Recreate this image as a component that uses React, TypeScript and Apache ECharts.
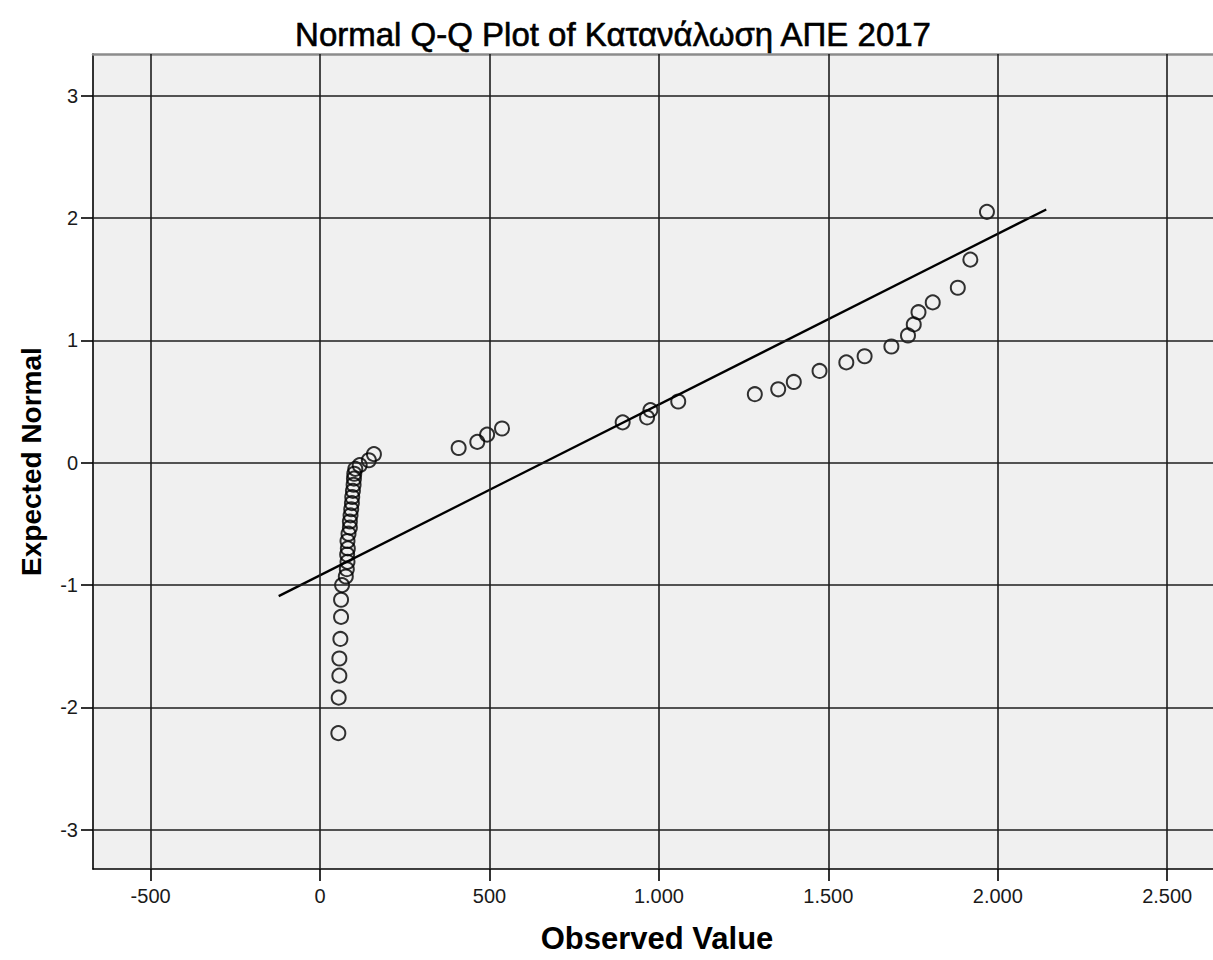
import React, { useEffect, useRef } from "react";
import * as echarts from "echarts";

// Observed values (x) and their expected normal scores (y), in rank order
const observed: number[] = [
  54, 55, 57, 57, 60, 62, 62, 65, 76, 79, 81, 80, 82, 81, 84, 88, 88, 90, 92, 94,
  95, 97, 99, 100, 101, 104, 117, 144, 159, 409, 464, 493, 537, 893, 965, 975,
  1057, 1283, 1352, 1398, 1474, 1553, 1607, 1686, 1735, 1752, 1766, 1808, 1882,
  1919, 1968,
];
const expected: number[] = [
  -2.21, -1.92, -1.74, -1.6, -1.44, -1.26, -1.12, -1.0, -0.93, -0.87, -0.81,
  -0.75, -0.7, -0.64, -0.58, -0.53, -0.48, -0.43, -0.38, -0.33, -0.28, -0.23,
  -0.18, -0.13, -0.09, -0.05, -0.02, 0.02, 0.07, 0.12, 0.17, 0.23, 0.28, 0.33,
  0.37, 0.43, 0.5, 0.56, 0.6, 0.66, 0.75, 0.82, 0.87, 0.95, 1.04, 1.13, 1.23,
  1.31, 1.43, 1.66, 2.05,
];

// Reference line end points (observed, expected)
const refLineX: number[] = [-122, 2143];
const refLineY: number[] = [-1.09, 2.07];

// Tick values
const xTicks: number[] = [-500, 0, 500, 1000, 1500, 2000, 2500];
const yTicks: number[] = [-3, -2, -1, 0, 1, 2, 3];

const FONT = "'Liberation Sans', Arial, sans-serif";

const fmtX = (v: number) =>
  String(v).replace(/\B(?=(\d{3})+(?!\d))/g, ".");

export default function App() {
  const ref = useRef<HTMLDivElement>(null);

  useEffect(() => {
    if (!ref.current) return;
    const chart = echarts.init(ref.current, undefined, { renderer: "svg" });

    const points = observed.map((x, i) => [x, expected[i]]);
    const line = refLineX.map((x, i) => [x, refLineY[i]]);

    const gridStyle = { color: "#1e1e1e", width: 1.6, type: "solid" as const };

    chart.setOption({
      animation: false,
      backgroundColor: "#ffffff",
      title: {
        text: "Normal Q-Q Plot of Κατανάλωση ΑΠΕ 2017",
        left: 608,
        textAlign: "center",
        top: 13,
        textStyle: {
          fontFamily: FONT,
          fontSize: 33,
          fontWeight: "normal",
          color: "#000",
          textBorderColor: "#000",
          textBorderWidth: 0.6,
        },
      },
      grid: {
        left: 93,
        top: 54,
        right: 25,
        bottom: 91,
        show: true,
        backgroundColor: "#f0f0f0",
        borderWidth: 0,
      },
      xAxis: [
        {
          type: "value",
          min: -670,
          max: 2700,
          position: "bottom",
          name: "Observed Value",
          nameLocation: "middle",
          nameGap: 54,
          nameTextStyle: {
            fontFamily: FONT,
            fontSize: 31,
            fontWeight: "bold",
            color: "#000",
            padding: [0, 14, 0, 0],
          },
          splitLine: { show: false },
          axisLine: { show: true, onZero: false, lineStyle: { color: "#000", width: 1.6 } },
          axisTick: {
            show: true,
            length: 12,
            customValues: xTicks,
            lineStyle: { color: "#000", width: 1.6 },
          },
          axisLabel: {
            customValues: xTicks,
            formatter: (v: number) => fmtX(v),
            margin: 17,
            fontFamily: FONT,
            fontSize: 20,
            color: "#1a1a1a",
          },
        },
        {
          type: "value",
          min: -670,
          max: 2700,
          position: "top",
          splitLine: { show: false },
          axisLine: { show: true, onZero: false, lineStyle: { color: "#8c8c8c", width: 2.5 } },
          axisTick: { show: false },
          axisLabel: { show: false },
        },
      ],
      yAxis: {
        type: "value",
        min: -3.32,
        max: 3.34,
        name: "Expected Normal",
        nameLocation: "middle",
        nameGap: 48,
        nameTextStyle: {
          fontFamily: FONT,
          fontSize: 28,
          fontWeight: "bold",
          color: "#000",
        },
        splitLine: { show: false },
        axisLine: { show: true, onZero: false, lineStyle: { color: "#000", width: 1.6 } },
        axisTick: {
          show: true,
          length: 12,
          customValues: yTicks,
          lineStyle: { color: "#000", width: 1.6 },
        },
        axisLabel: {
          customValues: yTicks,
          margin: 15,
          fontFamily: FONT,
          fontSize: 20,
          color: "#1a1a1a",
        },
      },
      series: [
        {
          // grid lines at the tick values
          type: "line",
          data: [],
          silent: true,
          z: 1,
          markLine: {
            silent: true,
            symbol: ["none", "none"],
            label: { show: false },
            lineStyle: gridStyle,
            data: [
              ...xTicks.map((v) => ({ xAxis: v })),
              ...yTicks.map((v) => ({ yAxis: v })),
            ],
          },
        },
        {
          type: "line",
          data: line,
          showSymbol: false,
          symbol: "none",
          z: 3,
          lineStyle: { color: "#000", width: 2.3 },
        },
        {
          type: "scatter",
          data: points,
          symbol: "circle",
          symbolSize: 14,
          z: 4,
          itemStyle: {
            color: "rgba(0,0,0,0)",
            borderColor: "#000",
            borderWidth: 2,
          },
        },
      ],
    });

    return () => chart.dispose();
  }, []);

  return (
    <div
      style={{
        position: "absolute",
        left: 0,
        top: 0,
        width: 1213,
        height: 960,
        overflow: "hidden",
        background: "#fff",
      }}
    >
      <div ref={ref} style={{ width: 1260, height: 960 }} />
    </div>
  );
}
